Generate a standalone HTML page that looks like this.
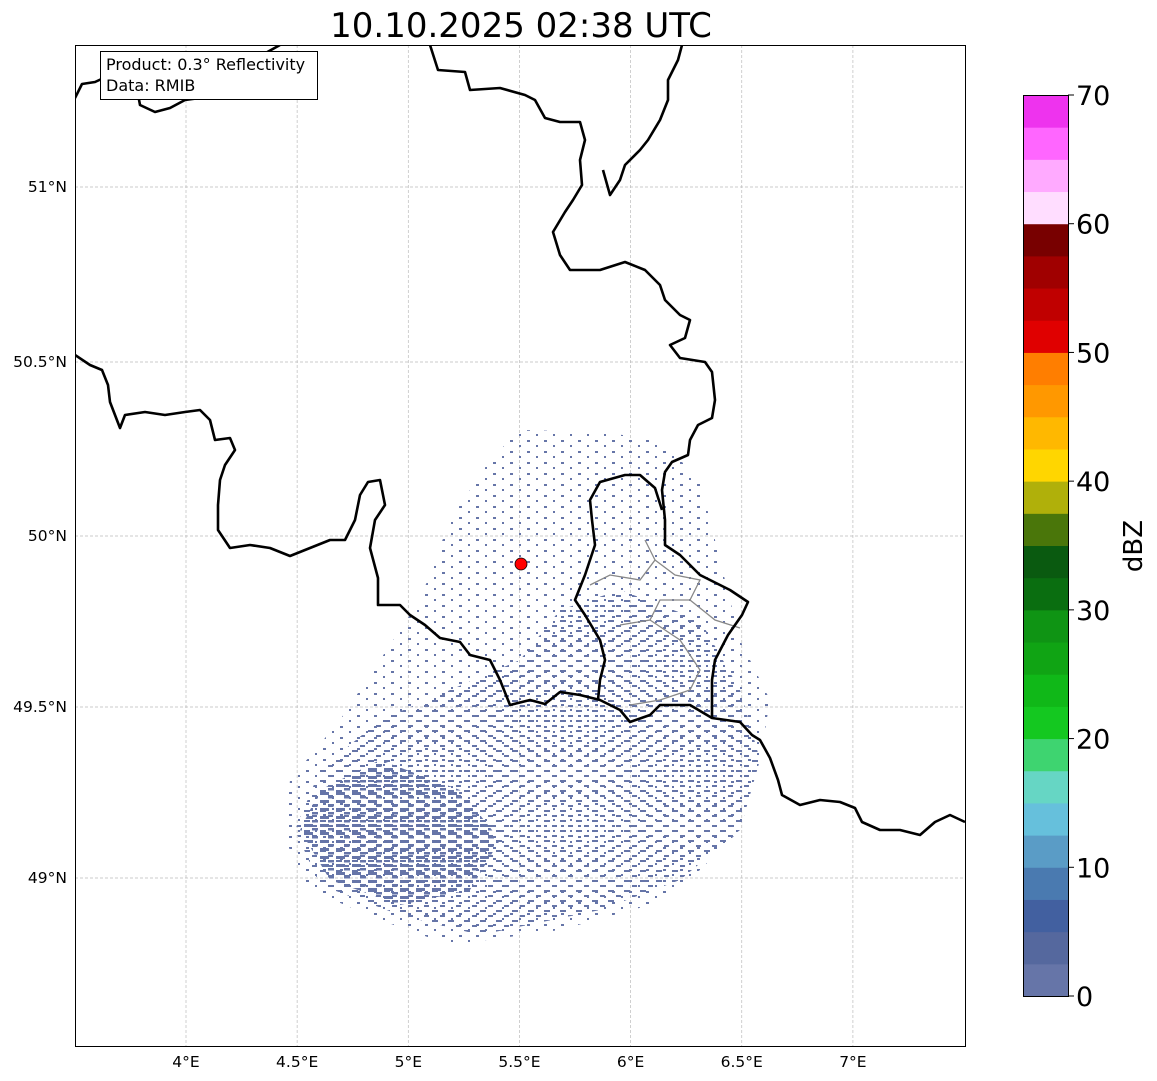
<!DOCTYPE html>
<html><head><meta charset="utf-8">
<style>
html,body{margin:0;padding:0;background:#fff;}
svg{display:block;font-family:"DejaVu Sans","Liberation Sans",sans-serif;}
</style></head>
<body>
<svg id="chart" width="1157" height="1081" viewBox="0 0 1157 1081" xmlns="http://www.w3.org/2000/svg">
<defs>
  <pattern id="sparse" width="17" height="11" patternUnits="userSpaceOnUse">
    <rect x="0" y="0" width="3" height="2" fill="#6675a8"/>
    <rect x="9" y="5" width="2" height="2" fill="#6675a8"/>
  </pattern>
  <pattern id="medium" width="16" height="10" patternUnits="userSpaceOnUse">
    <rect x="0" y="0" width="6" height="2" fill="#6675a8"/>
    <rect x="8" y="5" width="5" height="2" fill="#6675a8"/>
  </pattern>
  <pattern id="dense" width="16" height="8" patternUnits="userSpaceOnUse">
    <rect x="0" y="0" width="9" height="3" fill="#6675a8"/>
    <rect x="8" y="4" width="6" height="2.5" fill="#6675a8"/>
  </pattern>
  <clipPath id="axclip"><rect x="75" y="45" width="890" height="1001"/></clipPath>
</defs>

<text x="521" y="37" font-size="34" text-anchor="middle">10.10.2025 02:38 UTC</text>

<g id="map" clip-path="url(#axclip)">
  <g id="grid"></g>
  <g>
    <polygon points="520,430 600,432 660,440 700,480 720,560 740,640 770,700 760,760 740,830 700,870 650,905 560,930 450,945 380,920 310,890 285,840 290,780 340,720 380,660 420,600 450,520 490,460" fill="url(#sparse)"/>
    <polygon points="560,610 620,590 700,620 740,690 760,760 740,830 680,880 600,910 480,935 400,915 320,885 295,830 320,770 380,720 450,690 520,660" fill="url(#medium)"/>
    <polygon points="560,650 600,610 650,640 690,700 700,740 660,760 600,740 560,700" fill="url(#medium)"/>
    <polygon points="320,790 380,760 460,790 500,840 470,890 400,905 330,880 300,830" fill="url(#dense)"/>
  </g>
  <g fill="none" stroke="#888" stroke-width="1.3">
    <polyline points="645,540 655,560 640,580 610,575 590,585"/>
    <polyline points="655,560 675,575 700,580 690,600 660,600 650,620 620,625"/>
    <polyline points="690,600 715,620 740,628"/>
    <polyline points="650,620 680,640 700,670 690,690 660,700 630,705"/>
  </g>
  <g fill="none" stroke="#000" stroke-width="2.6" stroke-linejoin="round">
    <polyline points="75,98 82,84 95,82 108,76 125,78 135,78 140,105 155,112 170,108 185,100 200,98 215,88 230,75 245,62 262,55 280,45"/>
    <polyline points="430,45 438,70 465,72 470,90 500,88 525,95 535,100 545,118 560,122 580,122 585,140 580,160 582,185 573,200 565,212 553,232 560,255 570,270 600,270 625,262 645,270 660,285 665,300 680,315 690,320 685,338 670,345 680,358 705,362 712,372 715,400 712,418 698,425 690,440 688,455 672,462 665,472 662,490 665,520 665,545 680,555 700,575 730,590 748,602 742,615 728,635 715,660 712,680 712,718"/>
    <polyline points="603,170 610,195 620,180 625,165 640,150 648,140 660,120 668,100 668,80 678,60 682,45"/>
    <polyline points="75,355 90,365 102,370 108,385 110,402 120,428 125,415 145,412 165,415 185,412 200,410 210,420 215,440 230,438 235,450 225,465 220,480 218,505 218,530 230,548 250,545 270,548 290,556 310,548 330,540 345,540 355,520 360,495 368,482 380,480 385,505 375,520 370,548 378,578 378,605 400,605 410,615 425,625 440,638 460,642 470,655 490,660 500,680 510,705 530,700 545,704 560,692 580,695 600,700 620,710 630,722 650,715 660,705 690,705 712,718 740,722 752,735 760,740 770,758 778,780 782,795 800,805 820,800 840,802 855,808 862,822 880,830 900,830 920,835 935,822 950,815 965,822"/>
    <polyline points="598,700 600,680 605,660 600,640 585,615 575,600 585,575 595,545 592,520 590,500 600,482 625,475 640,475 655,488 662,510"/>
  </g>
  <circle cx="521" cy="564" r="6" fill="#ff0000" stroke="#000" stroke-width="0.8"/>
</g>
<rect x="75.5" y="45.5" width="890" height="1001" fill="none" stroke="#000" stroke-width="1"/>

<g>
  <rect x="100.5" y="51.5" width="217" height="48" fill="#fff" stroke="#000" stroke-width="1"/>
  <text x="106" y="70" font-size="16">Product: 0.3° Reflectivity</text>
  <text x="106" y="91" font-size="16">Data: RMIB</text>
</g>

<g id="xticks"></g>
<g id="yticks"></g>
<g id="cbar"></g>
<text transform="translate(1142,546) rotate(-90)" font-size="26" text-anchor="middle">dBZ</text>

<script>
const lonTicks = [4, 4.5, 5, 5.5, 6, 6.5, 7];
const lonLabels = ["4°E", "4.5°E", "5°E", "5.5°E", "6°E", "6.5°E", "7°E"];
const latTicks = [51, 50.5, 50, 49.5, 49];
const latLabels = ["51°N", "50.5°N", "50°N", "49.5°N", "49°N"];
const cbarColors = ["#6675a8","#55689e","#4260a0","#4a7ab0","#5a9cc6","#66c0dc","#66d6c4","#3ed470","#14c820","#10b818","#10a414","#0f9414","#0a6e10","#0a5a10","#4a760a","#b0b00a","#ffd600","#ffb800","#ff9800","#ff7e00","#e00000","#c00000","#a00000","#780000","#ffddff","#ffaaff","#ff66ff","#ee33ee"];
const cbarTicks = [0, 10, 20, 30, 40, 50, 60, 70];

const NS = "http://www.w3.org/2000/svg";
function xLon(l){ return 186 + (l - 4) * 222.3; }
const latPx = {51:187, 50.5:362, 50:536, 49.5:707, 49:878};
function yLat(l){ return latPx[l] !== undefined ? latPx[l] : 536 - (l - 50) * 345; }
function yDbz(v){ return 996 - v / 70 * 901; }
function mk(tag, attrs, parent){ const e = document.createElementNS(NS, tag); for (const k in attrs) e.setAttribute(k, attrs[k]); parent.appendChild(e); return e; }

const grid = document.getElementById('grid');
const xt = document.getElementById('xticks');
const yt = document.getElementById('yticks');
lonTicks.forEach((l, i) => {
  const x = xLon(l);
  const g = mk('line', {x1:x, x2:x, y1:45, y2:1046, stroke:'#bbb', 'stroke-width':0.7, 'stroke-dasharray':'3,2'}, grid);
  
  
  const t = mk('text', {x:x, y:1067, 'font-size':15.5, 'text-anchor':'middle'}, xt);
  t.textContent = lonLabels[i];
  
  
});
latTicks.forEach((l, i) => {
  const y = yLat(l);
  const g = mk('line', {x1:75, x2:965, y1:y, y2:y, stroke:'#bbb', 'stroke-width':0.7, 'stroke-dasharray':'3,2'}, grid);
  
  
  const t = mk('text', {x:67, y:y + 5, 'font-size':15.5, 'text-anchor':'end'}, yt);
  t.textContent = latLabels[i];
  
  
});

const cb = document.getElementById('cbar');
const step = 70 / cbarColors.length;
cbarColors.forEach((c, i) => {
  const y1 = yDbz((i + 1) * step), y0 = yDbz(i * step);
  const r = mk('rect', {x:1023, y:y1, width:45, height:y0 - y1 + 0.5, fill:c}, cb);
  
  
});
mk('rect', {x:1023.5, y:95.5, width:45, height:901, fill:'none', stroke:'#000', 'stroke-width':1}, cb);
cbarTicks.forEach(v => {
  const y = yDbz(v);
  mk('line', {x1:1068, x2:1074, y1:y, y2:y, stroke:'#000', 'stroke-width':1}, cb);
  const t = mk('text', {x:1076, y:y + 10, 'font-size':27}, cb);
  t.textContent = v;
  
  
});
</script>
</svg>
</body></html>
